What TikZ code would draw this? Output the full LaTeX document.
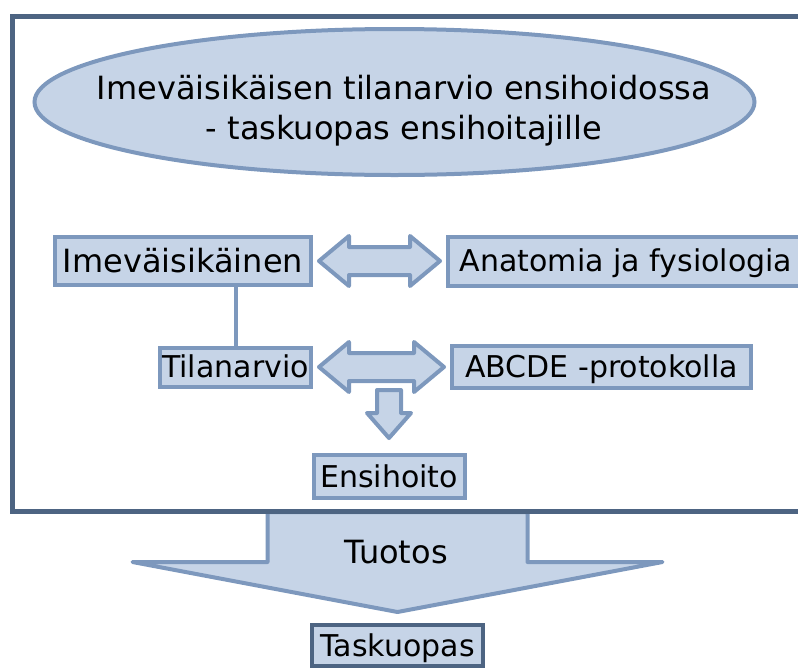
\documentclass[tikz,border=0pt]{standalone}
\usepackage{fontspec}
\setmainfont{DejaVu Sans}
\usepackage{tikz}
\usetikzlibrary{shapes,arrows,positioning,calc}
\definecolor{darkslate}{HTML}{4D6482}
\definecolor{lightblue}{HTML}{C6D4E7}
\definecolor{midblue}{HTML}{7D98BD}

\begin{document}
\begin{tikzpicture}[x=1pt,y=-1pt,
  txt/.style={font=\fontsize{32}{40}\selectfont},
  box/.style={font=\fontsize{30}{40}\selectfont,draw=midblue,fill=lightblue,line width=4pt,inner sep=0pt,text height=21.9pt,text depth=0pt},
  blockarrow/.style={draw=midblue,fill=lightblue,line width=4pt,line join=round}]
  \path[use as bounding box,clip] (0,0) rectangle (798,670);

  % Top: title ellipse
  \node[ellipse,draw=midblue,fill=lightblue,line width=4pt,inner sep=0pt,
        minimum width=720pt,minimum height=146pt] (title) at (394.5,102) {};
  \node[txt,align=center] (titletext) at (404,111)
        {Imeväisikäisen tilanarvio ensihoidossa\\- taskuopas ensihoitajille};

  % Middle: boxes
  \node[box,txt,text height=23.4pt,minimum width=256pt,minimum height=48pt] (imev) at (183,261) {Imeväisikäinen};
  \node[box,minimum width=356pt,minimum height=49pt] (anat) at (626,261) {Anatomia ja fysiologia};
  \node[box,minimum width=151pt,minimum height=39pt] (tila) at (235.5,367) {Tilanarvio};
  \node[box,minimum width=299pt,minimum height=42pt] (abcde) at (601.5,367) {ABCDE -protokolla};
  \node[box,minimum width=151pt,minimum height=43pt] (ensi) at (389,476.5) {Ensihoito};

  % Bottom: result
  \node[box,draw=darkslate,minimum width=171pt,minimum height=41pt] (tasku) at (397.5,645.5) {Taskuopas};

  % Line and arrows
  \draw[midblue,line width=4pt] (imev.south -| tila.north) -- (tila.north);
  \draw[blockarrow] ($(imev.east)+(6,0)$) -- ++(30,-25) -- ++(0,11) -- ($(anat.west)+(-36,-14)$) -- ++(0,-11)
    -- ($(anat.west)+(-6,0)$) -- ++(-30,25) -- ++(0,-11) -- ($(imev.east)+(36,14)$) -- ++(0,11) -- cycle;
  \draw[blockarrow] ($(tila.east)+(6,0)$) -- ++(30,-25) -- ++(0,11) -- ($(abcde.west)+(-36,-14)$) -- ++(0,-11)
    -- ($(abcde.west)+(-6,0)$) -- ++(-30,25) -- ++(0,-11) -- ($(tila.east)+(36,14)$) -- ++(0,11) -- cycle;
  \coordinate (dtip) at ($(ensi.north)+(0,-15)$);
  \draw[blockarrow] (dtip) -- ++(-22,-25) -- ++(10,0) -- ++(0,-23) -- ++(24,0) -- ++(0,23) -- ++(10,0) -- cycle;

  % Big arrow
  \coordinate (btip) at ($(tasku.north)+(0,-11)$);
  \draw[blockarrow] (btip) -- ++(-265,-50) -- ++(135,0) -- ++(0,-50) -- ++(260,0) -- ++(0,50) -- ++(135,0) -- cycle;
  \node[txt] (tuotos) at (396,552) {Tuotos};

  % Frame
  \draw[darkslate,line width=5pt] (830,16) -- (12,16) -- (12,511) -- (830,511);
\end{tikzpicture}
\end{document}
